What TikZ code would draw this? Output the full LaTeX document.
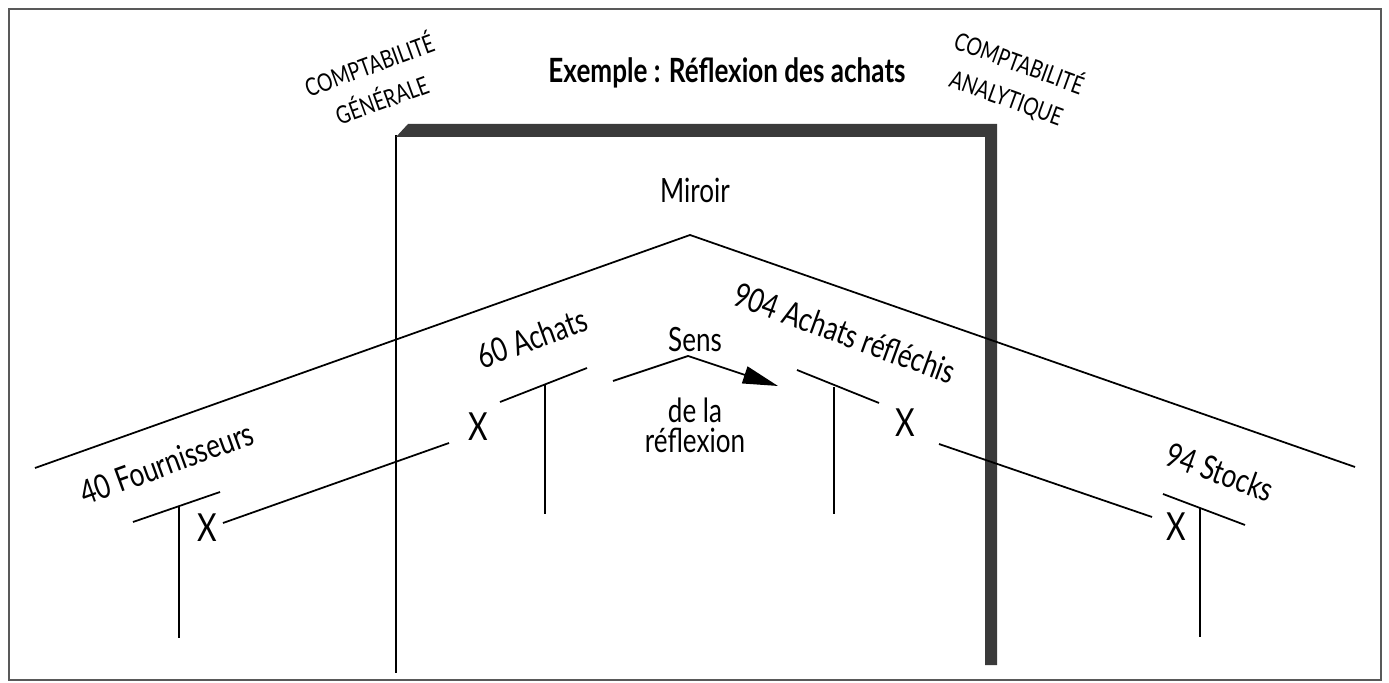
\documentclass[tikz,border=0pt]{standalone}
\usepackage{fontspec}
\setmainfont[FakeStretch=0.78]{Lato}
\definecolor{MirrorGray}{RGB}{58, 58, 58}
\usetikzlibrary{arrows.meta}

\begin{document}
\begin{tikzpicture}[x=0.01cm, y=-0.01cm, line width=0.5pt,
    lbl/.style={font=\fontsize{9.5}{11}\selectfont, inner sep=0pt},
    side/.style={font=\fontsize{7}{10.5}\selectfont, align=center, inner sep=0pt},
    cross/.style={font=\fontsize{11}{12}\selectfont, inner sep=0pt}]
  \useasboundingbox (0,0) rectangle (1389,683);
  \draw[gray!70!black, line width=0.7pt] (9,9) rectangle (1381,680);

  % headings
  \node[font=\fontsize{9.5}{11}\selectfont\bfseries, inner sep=0pt] (title) at (727,73) {Exemple : Réflexion des achats};
  \node[side, rotate=20] (cg) at (375,81) {COMPTABILITÉ\\GÉNÉRALE};
  \node[side, rotate=-20] (ca) at (1013,80) {COMPTABILITÉ\\ANALYTIQUE};

  % the mirror frame
  \coordinate (mirTL) at (396,135);
  \coordinate (mirBL) at (396,673);
  \draw (mirTL) -- (mirBL);
  \fill[MirrorGray] (396,137) -- (408,124) -- (997,124) -- (997,665) -- (985,665) -- (985,137) -- cycle;
  \node[lbl] (miroir) at (695,190) {Miroir};

  % roof lines
  \coordinate (roofL) at (35,468);
  \coordinate (apex) at (690,235);
  \coordinate (roofR) at (1355,467);
  \draw (roofL) -- (apex) -- (roofR);

  % T accounts
  \draw (133,522) -- (220,492);
  \draw (179,507) -- (179,638);
  \draw (500,402) -- (587,368);
  \draw (545,384) -- (545,514);
  \draw (797,370) -- (879,403);
  \draw (834,387) -- (834,514);
  \draw (1163,494) -- (1245,525);
  \draw (1200,508) -- (1200,637);

  \node[lbl, rotate=20] (fourn) at (167,463) {40 Fournisseurs};
  \node[lbl, rotate=20] (achats) at (532,338) {60 Achats};
  \node[lbl, rotate=-20] (reflechis) at (845,333) {904 Achats réfléchis};
  \node[lbl, rotate=-20] (stocks) at (1220,472) {94 Stocks};

  % crosses and links between accounts
  \node[cross] (x1) at (207,528) {X};
  \node[cross] (x2) at (478,427) {X};
  \node[cross] (x3) at (905,423) {X};
  \node[cross] (x4) at (1176,527) {X};
  \draw (223,523) -- (449,443);
  \draw (939,444) -- (1152,517);

  % direction of the reflection
  \node[lbl] (sens) at (695,340) {Sens};
  \node[lbl] (dela) at (695,410) {de la};
  \node[lbl] (reflexion) at (695,440) {réflexion};
  \coordinate (arrS) at (613,381);
  \coordinate (arrA) at (688,356);
  \coordinate (arrE) at (778,386);
  \draw[-{Triangle[length=10pt, width=5pt]}] (arrS) -- (arrA) -- (arrE);
\end{tikzpicture}
\end{document}
